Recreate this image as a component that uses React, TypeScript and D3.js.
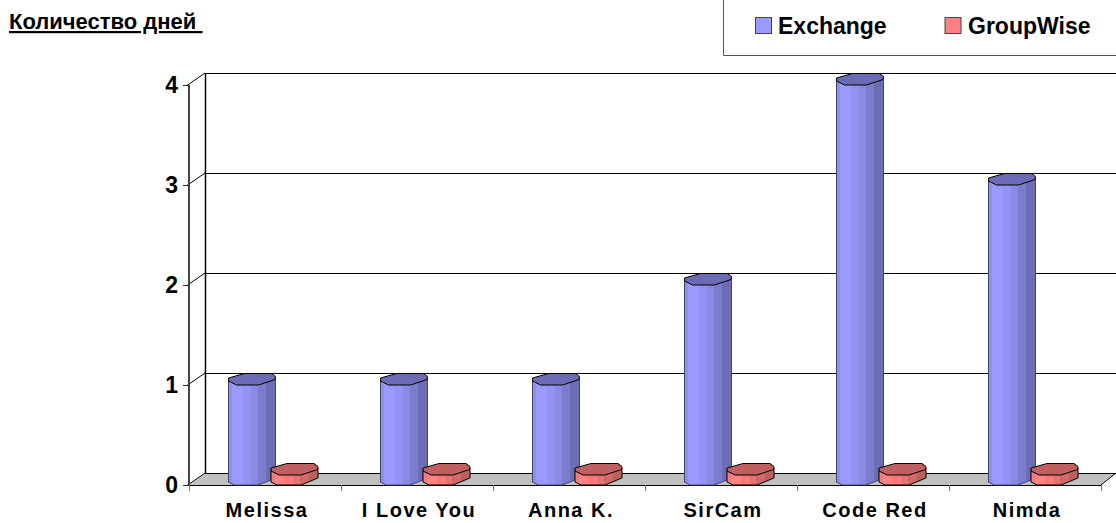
import React from "react";
import * as d3 from "d3";

const categories = ["Melissa", "I Love You", "Anna K.", "SirCam", "Code Red", "Nimda"];
const exchangeValues = [1, 1, 1, 2, 4, 3];
const groupWiseValues = [0.1, 0.1, 0.1, 0.1, 0.1, 0.1];
const yTicks = [0, 1, 2, 3, 4];

const FONT = "'Liberation Sans', Arial, sans-serif";
const x = d3.scaleBand<string>().domain(categories).range([189, 1101]);
const y = d3.scaleLinear().domain([0, 4]).range([485, 85]);
const DX = 16, DY = -12;
const line = d3.line<[number, number]>();

const capShape: [number, number][] = [[0,-7],[16,-11.5],[43,-11.5],[47,-8.5],[46.5,-5.5],[30,0],[8,0],[0,-4]];
const frontShape: [number, number][] = [[0,-3],[6,0],[30,0],[47,-7]];

function Bar({ left, value, body, cap, edge }: { left: number; value: number; body: string; cap: string; edge: string }) {
  const top = y(value);
  const base = y(0);
  const sidePts: [number, number][] = [
    [left, top - 5],
    ...frontShape.map(([u, v]) => [left + u, base + v] as [number, number]),
    [left + 47, top - 7],
  ];
  const capPts = capShape.map(([u, v]) => [left + u, top + v] as [number, number]);
  return (
    <g>
      <path d={line(sidePts)! + "Z"} fill={`url(#${body})`} stroke={edge} strokeWidth={1} />
      <path d={line(capPts)! + "Z"} fill={cap} stroke="#000" strokeWidth={1} />
    </g>
  );
}

function bands(id: string, colors: string[]) {
  const edges = [0, 0.08, 0.3, 0.48, 0.62, 0.8, 1];
  return (
    <linearGradient id={id} x1="0" x2="1" y1="0" y2="0">
      {colors.flatMap((c, i) => [
        <stop key={i + "a"} offset={edges[i]} stopColor={c} />,
        <stop key={i + "b"} offset={edges[i + 1]} stopColor={c} />,
      ])}
    </linearGradient>
  );
}

export default function App() {
  const x0 = x.range()[0], x1 = x.range()[1];
  const yBase = y(0);
  const yTop = y(4);
  return (
    <svg width={1116} height={523} style={{ position: "absolute", left: 0, top: 0, background: "#fff" }} fontFamily={FONT}>
      <defs>
        {bands("ex", ["#8F8FEE", "#9999FF", "#9393F5", "#8A8AE4", "#7C7CCC", "#6C6CB2"])}
        {bands("gw", ["#F27A7A", "#FF8080", "#F57B7B", "#E47272", "#D06868", "#BC5E5E"])}
      </defs>

      <text x={9} y={29} fontSize={22} fontWeight="bold" textDecoration="underline" style={{ whiteSpace: "pre" }}>Количество дней </text>

      <path d="M723.5,0V55.5H1116" fill="none" stroke="#555" strokeWidth={1} />
      <rect x={755.5} y={17.5} width={16} height={16} fill="#9999FF" stroke="#444" />
      <text x={778} y={34} fontSize={23} fontWeight="bold">Exchange</text>
      <rect x={945} y={17.5} width={16} height={16} fill="#FF8080" stroke="#444" />
      <text x={968} y={34} fontSize={23} fontWeight="bold">GroupWise</text>

      <path d={line([[x0, yBase], [x0 + DX, yBase + DY], [1116, yBase + DY], [x1, yBase]])! + "Z"} fill="#C0C0C0" />
      {yTicks.map((t) => (
        <g key={t}>
          <line x1={x0 + DX} x2={1116} y1={y(t) + DY + 0.5} y2={y(t) + DY + 0.5} stroke="#000" />
          <line x1={x0 - 6} x2={x0} y1={y(t) + 0.5} y2={y(t) + 0.5} stroke="#333" />
          <line x1={x0 - 2} y1={y(t) + 0.5} x2={x0 + DX} y2={y(t) + DY} stroke="#000" />
          <text x={178} y={y(t) + 8} textAnchor="end" fontSize={23} fontWeight="bold">{t}</text>
        </g>
      ))}
      <line x1={x0 + DX + 0.5} x2={x0 + DX + 0.5} y1={yTop + DY} y2={yBase + DY} stroke="#000" strokeWidth={1.5} />
      <line x1={x0} x2={x0} y1={yTop} y2={yBase} stroke="#444" strokeWidth={2} />
      <line x1={x1} y1={yBase} x2={1116} y2={yBase + DY} stroke="#000" />
      <line x1={x0} x2={x1} y1={yBase + 0.5} y2={yBase + 0.5} stroke="#000" />
      {[...categories.map((c) => x(c)!), x1].map((px, i) => (
        <line key={i} x1={px + 0.5} x2={px + 0.5} y1={yBase} y2={yBase + 6} stroke="#777" />
      ))}

      {categories.map((c, i) => (
        <g key={c}>
          <Bar left={x(c)! + 39.5} value={exchangeValues[i]} body="ex" cap="#6B6BB5" edge="#444466" />
          <Bar left={x(c)! + 82} value={groupWiseValues[i]} body="gw" cap="#BF6060" edge="#000" />
          <text x={x(c)! + x.bandwidth() / 2 + 2} y={517} textAnchor="middle" fontSize={20} fontWeight="bold" letterSpacing={1.5}>{c}</text>
        </g>
      ))}
    </svg>
  );
}
